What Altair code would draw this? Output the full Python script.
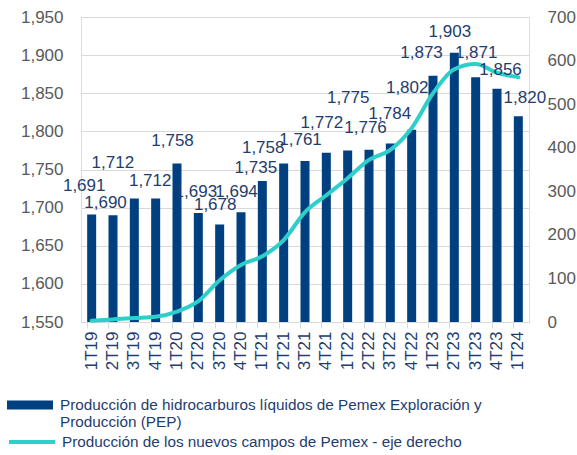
import altair as alt
import pandas as pd

quarters = ["1T19", "2T19", "3T19", "4T19", "1T20", "2T20", "3T20", "4T20",
            "1T21", "2T21", "3T21", "4T21", "1T22", "2T22", "3T22", "4T22",
            "1T23", "2T23", "3T23", "4T23", "1T24"]
pep = [1691, 1690, 1712, 1712, 1758, 1693, 1678, 1694, 1735, 1758, 1761,
       1772, 1775, 1776, 1784, 1802, 1873, 1903, 1871, 1856, 1820]
nuevos = [3, 6, 9, 12, 24, 48, 96, 131, 151, 188, 252, 291, 330, 372, 395,
          445, 525, 580, 592, 572, 562]

# label nudges (pixels), as placed in the original chart
label_dx = [-3, -3, -17, -1, 0, 2, 0, 0, -2, -16, 0, 0, 5, 1, 4, 0, -7, 0, 5, 8, 11]
label_dy = [-28, -12, -35, -17, -22, -21, -19, -20, -13, -15, -21, -30, -52, -22,
            -30, -42, -23, -21, -24, -19, -18]

name_bar = "Producción de hidrocarburos líquidos de Pemex Exploración y Producción (PEP)"
name_line = "Producción de los nuevos campos de Pemex - eje derecho"

PLOT_H = 305
Y_MIN, Y_MAX = 1550, 1950

df = pd.DataFrame({
    "q": quarters, "pep": pep, "nuevos": nuevos,
    "ldx": label_dx, "ldy": label_dy,
    "sb": name_bar, "sl": name_line,
})

NAVY = "#004080"
TEXT = "#1F3D6E"
TEAL = "#2ECFCB"
GRAY = "#595959"
GRID = "#D9D9D9"
FONT = "Liberation Sans"

xenc = alt.X("q:N", sort=quarters, title=None,
             scale=alt.Scale(paddingInner=0.58, paddingOuter=0.29),
             axis=alt.Axis(labelAngle=-90, labelColor=TEXT, labelFontSize=17,
                           labelFont=FONT, domainColor=GRID, tickColor=GRID,
                           tickSize=6, labelPadding=3, bandPosition=0, grid=False))

yscale = alt.Scale(domain=[Y_MIN, Y_MAX], zero=False, nice=False)

bars = alt.Chart(df).mark_bar(clip=True, size=9).encode(
    x=xenc,
    y=alt.Y("pep:Q", title=None, scale=yscale,
            axis=alt.Axis(values=list(range(Y_MIN, Y_MAX + 1, 50)),
                          labelExpr="format(datum.value, ',')",
                          labelColor=GRAY, labelFontSize=17, labelFont=FONT,
                          domain=False, ticks=False, labelPadding=18,
                          grid=True, gridColor=GRID, gridWidth=1)),
    color=alt.Color("sb:N", scale=alt.Scale(domain=[name_bar], range=[NAVY]),
                    legend=alt.Legend(title=None, orient="none", legendX=-74, legendY=365,
                                      symbolType="M-1,-0.2H1V0.2H-1Z", symbolSize=2116,
                                      symbolStrokeWidth=0, labelFontSize=15.3, labelFont=FONT,
                                      labelColor=TEXT, labelLimit=600, labelOffset=7,
                                      labelBaseline="middle",
                                      labelExpr="['Producción de hidrocarburos líquidos de Pemex Exploración y', 'Producción (PEP)']")),
)

line = alt.Chart(df).mark_line(interpolate="monotone", strokeWidth=4, strokeCap="round").encode(
    x=xenc,
    y=alt.Y("nuevos:Q", title=None,
            scale=alt.Scale(domain=[0, 700], nice=False),
            axis=alt.Axis(orient="right", values=list(range(0, 701, 100)),
                          labelColor=GRAY, labelFontSize=17, labelFont=FONT,
                          domain=False, ticks=False, labelPadding=18, grid=False)),
    stroke=alt.Stroke("sl:N", scale=alt.Scale(domain=[name_line], range=[TEAL]),
                      legend=alt.Legend(title=None, orient="none", legendX=-74, legendY=400,
                                        symbolType="stroke", symbolSize=2116,
                                        symbolStrokeWidth=4, labelFontSize=15.3, labelFont=FONT,
                                        labelColor=TEXT, labelLimit=600, labelOffset=5)),
)

labels = alt.Chart(df).transform_calculate(
    ly=f"datum.pep - datum.ldy * {(Y_MAX - Y_MIN) / PLOT_H}"
).mark_text(fontSize=17, font=FONT, color=TEXT, baseline="middle").encode(
    x=xenc,
    y=alt.Y("ly:Q", scale=yscale, axis=None),
    xOffset=alt.XOffset("ldx:Q", scale=None),
    text=alt.Text("pep:Q", format=","),
)

chart = alt.layer(bars, line, labels).resolve_scale(
    y="independent", color="independent", stroke="independent"
).properties(
    width=448, height=PLOT_H,
    autosize=alt.AutoSizeParams(type="none"),
    padding={"left": 81, "top": 17, "right": 48, "bottom": 133},
).configure_view(stroke=None).configure(background="white")

chart.save("out.html", embed_options={"renderer": "svg", "actions": False})
